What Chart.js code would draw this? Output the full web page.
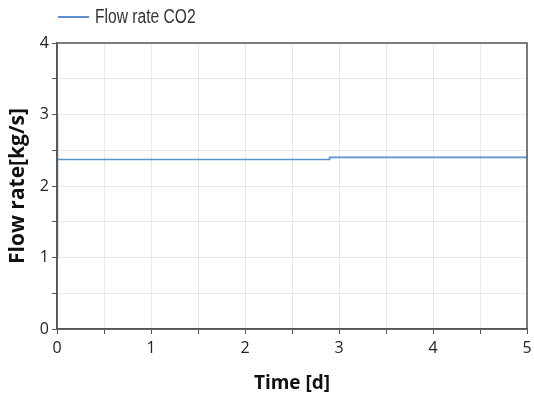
<!DOCTYPE html>
<html>
<head>
<meta charset="utf-8">
<script src="https://cdn.jsdelivr.net/npm/chart.js@4"></script>
<style>
  body { margin: 0; background: #fff; }
  .wrap { position: relative; width: 534px; height: 399px; }
  .legend { position: absolute; left: 58px; top: 5px; display: flex; align-items: center;
            font-family: "Liberation Sans", sans-serif; font-size: 20px; color: #333; }
  .legend .swatch { width: 31px; height: 0; border-top: 2px solid #5b8fd0; margin-right: 6px; }
  .legend .legend-text { display: inline-block; transform: scaleX(0.78); transform-origin: left center; }
</style>
</head>
<body>
<div class="wrap">
  <canvas id="chart" width="534" height="399"></canvas>
  <div class="legend"><span class="swatch"></span><span class="legend-text"></span></div>
</div>
<script>
  // data
  const seriesName = "Flow rate CO2";
  const timeDays = [0, 0, 0.01, 2.9, 2.9, 5];
  const flowRate = [1.0, 3.0, 2.37, 2.37, 2.4, 2.4];
  const xTicks = [0, 1, 2, 3, 4, 5];
  const yTicks = [0, 1, 2, 3, 4];

  const lineColor = "#5b8fd0";
  const axisColor = "#555555";
  const gridColor = "#e8e8e8";

  document.querySelector(".legend-text").textContent = seriesName;

  const points = timeDays.map((t, i) => ({ x: t, y: flowRate[i] }));

  // box around the plot area
  const frame = {
    id: "frame",
    afterDraw(c) {
      const a = c.chartArea;
      const g = c.ctx;
      g.save();
      g.strokeStyle = axisColor;
      g.lineWidth = 1.5;
      g.strokeRect(a.left, a.top, a.right - a.left, a.bottom - a.top);
      g.restore();
    },
  };

  const tickFont = { family: "'Open Sans', sans-serif", size: 16 };

  new Chart(document.getElementById("chart").getContext("2d"), {
    type: "scatter",
    data: {
      datasets: [
        {
          label: seriesName,
          data: points,
          showLine: true,
          borderColor: lineColor,
          borderWidth: 1.6,
          pointRadius: 0,
          tension: 0,
        },
      ],
    },
    options: {
      responsive: false,
      animation: false,
      layout: { padding: { top: 43, right: 7, left: 0, bottom: 0 } },
      plugins: {
        legend: { display: false },
        tooltip: { enabled: false },
      },
      scales: {
        x: {
          type: "linear",
          min: xTicks[0],
          max: xTicks[xTicks.length - 1],
          afterFit: (s) => {
            s.height = 70;
            s.paddingLeft = 0;
            s.paddingRight = 0;
          },
          ticks: {
            stepSize: 0.5,
            autoSkip: false,
            maxRotation: 0,
            padding: 5,
            color: "#222",
            font: tickFont,
            callback: (v) => (xTicks.includes(v) ? String(v) : ""),
          },
          grid: { color: gridColor, tickColor: axisColor, tickLength: 5, lineWidth: 1 },
          border: { color: axisColor, width: 1.5 },
          title: {
            display: true,
            text: "Time [d]",
            color: "#111",
            font: { family: "'Open Sans', sans-serif", size: 19, weight: "bold" },
            padding: { top: 4, bottom: 4 },
          },
        },
        y: {
          type: "linear",
          min: yTicks[0],
          max: yTicks[yTicks.length - 1],
          afterFit: (s) => { s.width = 57; },
          ticks: {
            stepSize: 0.5,
            autoSkip: false,
            padding: 3,
            color: "#222",
            font: tickFont,
            callback: (v) => (yTicks.includes(v) ? String(v) : ""),
          },
          grid: { color: gridColor, tickColor: axisColor, tickLength: 5, lineWidth: 1 },
          border: { color: axisColor, width: 1.5 },
          title: {
            display: true,
            text: "Flow rate[kg/s]",
            color: "#111",
            font: { family: "'Open Sans', sans-serif", size: 21, weight: "bold" },
            padding: { top: 5, bottom: 0 },
          },
        },
      },
    },
    plugins: [frame],
  });
</script>
</body>
</html>
